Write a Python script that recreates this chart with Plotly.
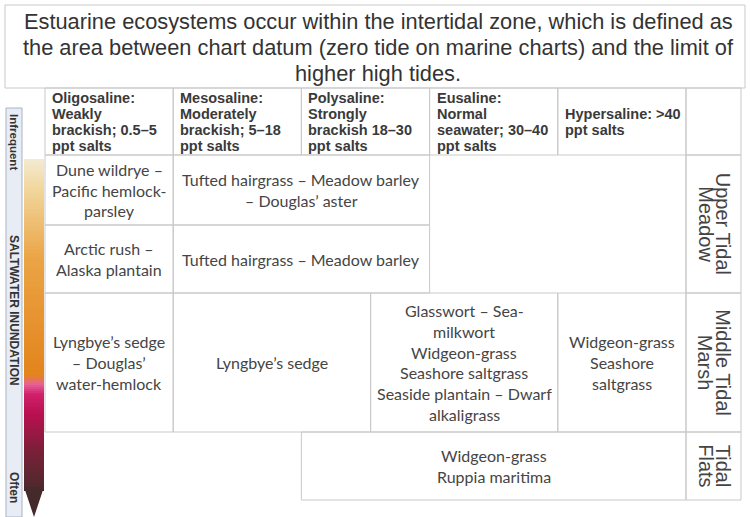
import plotly.graph_objects as go
import numpy as np

# ---------------- data ----------------
title_lines = [
    "Estuarine ecosystems occur within the intertidal zone, which is defined as",
    "the area between chart datum (zero tide on marine charts) and the limit of",
    "higher high tides.",
]
salinity_headers = [
    ["Oligosaline:", "Weakly", "brackish; 0.5–5", "ppt salts"],
    ["Mesosaline:", "Moderately", "brackish; 5–18", "ppt salts"],
    ["Polysaline:", "Strongly", "brackish 18–30", "ppt salts"],
    ["Eusaline:", "Normal", "seawater; 30–40", "ppt salts"],
    ["Hypersaline: >40", "ppt salts"],
]
zones = [["Upper Tidal", "Meadow"], ["Middle Tidal", "Marsh"], ["Tidal", "Flats"]]
zone_row_start = [0, 2, 3]
zone_row_end = [2, 3, 4]
community_text = [
    ["Dune wildrye –", "Pacific hemlock-", "parsley"],
    ["Tufted hairgrass – Meadow barley", "– Douglas’ aster"],
    ["Arctic rush –", "Alaska plantain"],
    ["Tufted hairgrass – Meadow barley"],
    ["Lyngbye’s sedge", "– Douglas’", "water-hemlock"],
    ["Lyngbye’s sedge"],
    ["Glasswort – Sea-", "milkwort", "Widgeon-grass", "Seashore saltgrass",
     "Seaside plantain – Dwarf", "alkaligrass"],
    ["Widgeon-grass", "Seashore", "saltgrass"],
    ["Widgeon-grass", "Ruppia maritima"],
]
community_row = [0, 0, 1, 1, 2, 2, 2, 2, 3]
community_col_start = [0, 1, 0, 1, 0, 1, 2.54, 4, 2]
community_col_end = [1, 3, 1, 3, 1, 2.54, 4, 5, 5]
axis_labels = ["Infrequent", "SALTWATER INUNDATION", "Often"]

# ---------------- geometry / style ----------------
W, H = 750, 517
X0, CW = 45, 128.2
def col_x(c):
    return X0 + CW * c
ROW_EDGES = [155, 225, 293, 432, 500]
HEAD_TOP = 88
LABEL_R = 741
GRID = "#c9c9c9"
TXT = "#454545"

fig = go.Figure()
shapes = []
ann = []

def rect(x0, y0, x1, y1, color=GRID, fill=None, width=1):
    shapes.append(dict(type="rect", xref="x", yref="y", x0=x0, y0=y0, x1=x1, y1=y1,
                       line=dict(color=color, width=width),
                       fillcolor=fill if fill else "rgba(0,0,0,0)", layer="below"))

def lines_text(x, yc, lines, size, spacing, family, color=TXT, align="center", bold=False):
    n = len(lines)
    for i, t in enumerate(lines):
        y = yc + (i - (n - 1) / 2) * spacing
        ann.append(dict(x=x, y=y, xref="x", yref="y", text=("<b>%s</b>" % t) if bold else t,
                        showarrow=False, xanchor=align, yanchor="middle",
                        font=dict(family=family, size=size, color=color)))

def vlines_text(xc, y, lines, size, spacing, family, color=TXT, bold=False):
    n = len(lines)
    for i, t in enumerate(lines):
        x = xc - (i - (n - 1) / 2) * spacing
        ann.append(dict(x=x, y=y, xref="x", yref="y", text=("<b>%s</b>" % t) if bold else t,
                        showarrow=False, xanchor="center", yanchor="middle", textangle=90,
                        font=dict(family=family, size=size, color=color)))

# title box
rect(5, 5, 745, HEAD_TOP)
lines_text(378, 47, title_lines, 21.8, 26, "Liberation Sans, Arial", color="#333333")

# header cells
for i, hdr in enumerate(salinity_headers):
    rect(col_x(i), HEAD_TOP, col_x(i + 1), ROW_EDGES[0])
    lines_text(col_x(i) + 5, (HEAD_TOP + ROW_EDGES[0]) / 2, hdr, 14.5, 16,
               "Liberation Sans, Arial", color="#3a3a3a", align="left", bold=True)
rect(col_x(5), HEAD_TOP, LABEL_R, ROW_EDGES[0])

# community cells
for t, r, c0, c1 in zip(community_text, community_row, community_col_start, community_col_end):
    x0, x1 = col_x(c0), col_x(c1)
    y0, y1 = ROW_EDGES[r], ROW_EDGES[r + 1]
    rect(x0, y0, x1, y1)
    lines_text((x0 + x1) / 2, (y0 + y1) / 2, t, 16, 20.8, "Lato")

# zone labels
for z, rs, re_ in zip(zones, zone_row_start, zone_row_end):
    y0, y1 = ROW_EDGES[rs], ROW_EDGES[re_]
    rect(col_x(5), y0, LABEL_R, y1)
    vlines_text((col_x(5) + LABEL_R) / 2 + 1, (y0 + y1) / 2, z, 20, 17.5,
                "Liberation Sans, Arial", color="#444444")
shapes.append(dict(type="line", xref="x", yref="y", x0=col_x(5), x1=col_x(5),
                   y0=ROW_EDGES[0], y1=ROW_EDGES[2], line=dict(color=GRID, width=1)))

# left strip
rect(6, 108, 22, 517, color="#aab3c4", fill="#e8ecf4")
vlines_text(14, 142, [axis_labels[0]], 11.5, 0, "Liberation Sans, Arial", color="#333", bold=True)
vlines_text(14, 310, [axis_labels[1]], 12, 0, "Liberation Sans, Arial", color="#333", bold=True)
vlines_text(14, 487, [axis_labels[2]], 12, 0, "Liberation Sans, Arial", color="#333", bold=True)

# gradient arrow shaft
ys = np.linspace(160, 490, 166)
fig.add_trace(go.Heatmap(
    z=[[v, v] for v in ys], x=[29, 39], y=ys,
    colorscale=[[0.0, "#f4ead0"], [0.08, "#f2d8a0"], [0.3, "#eba445"], [0.65, "#e3841c"],
                [0.68, "#e8609a"], [0.71, "#d0206a"], [0.77, "#b81050"], [0.88, "#7a2038"],
                [1.0, "#4a2a2c"]],
    showscale=False, hoverinfo="skip"))
shapes.append(dict(type="path", xref="x", yref="y", path="M 24 487 L 44 487 L 34 517 Z",
                   fillcolor="#452a2c", line=dict(width=0)))

fig.update_layout(
    width=W, height=H, margin=dict(l=0, r=0, t=0, b=0),
    paper_bgcolor="white", plot_bgcolor="white",
    xaxis=dict(range=[0, W], visible=False, fixedrange=True),
    yaxis=dict(range=[H, 0], visible=False, fixedrange=True),
    shapes=shapes, annotations=ann, showlegend=False,
)
fig.write_html("out.html", config={"displayModeBar": False},
               post_script="document.body.style.margin='0px';")
